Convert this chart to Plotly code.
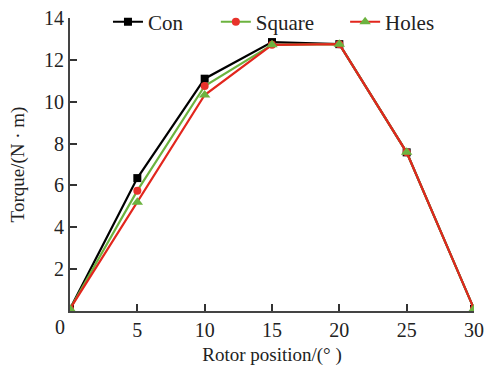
import plotly.graph_objects as go

positions = [0, 5, 10, 15, 20, 25, 30]
con = [0.1, 6.35, 11.1, 12.85, 12.75, 7.58, 0.1]
square = [0.1, 5.75, 10.75, 12.72, 12.75, 7.58, 0.1]
holes = [0.1, 5.2, 10.32, 12.72, 12.75, 7.58, 0.1]
x_ticks = [5, 10, 15, 20, 25, 30]
y_ticks = [2, 4, 6, 8, 10, 12, 14]

FONT = "Liberation Serif"

fig = go.Figure()
fig.add_trace(go.Scatter(x=positions, y=con, name="Con", mode="lines+markers",
                         line=dict(color="black", width=2.2), legend="legend",
                         marker=dict(symbol="square", size=8, color="black")))
fig.add_trace(go.Scatter(x=positions, y=square, name="Square", mode="lines+markers",
                         line=dict(color="#6cb33f", width=2.2), legend="legend2",
                         marker=dict(symbol="circle", size=8, color="#e8322b")))
fig.add_trace(go.Scatter(x=positions, y=holes, name="Holes", mode="lines+markers",
                         line=dict(color="#e2261d", width=2.2), legend="legend3",
                         marker=dict(symbol="triangle-up", size=10, color="#6cb33f")))

leg_common = dict(y=0.986, xanchor="left", yanchor="middle", bgcolor="rgba(0,0,0,0)",
                  font=dict(size=21, family=FONT, color="#222"))

fig.update_layout(
    width=491, height=367,
    margin=dict(l=70, r=17, t=18, b=56, autoexpand=False),
    plot_bgcolor="white", paper_bgcolor="white",
    font=dict(family=FONT, size=20, color="#222"),
    showlegend=True,
    legend=dict(x=0.094, **leg_common),
    legend2=dict(x=0.361, **leg_common),
    legend3=dict(x=0.681, **leg_common),
    xaxis=dict(range=[0, 30], tickvals=x_ticks, ticks="inside", ticklen=7,
               tickwidth=1.5, tickcolor="#333", showline=True, linecolor="#444",
               linewidth=2, showgrid=False, zeroline=False,
               tickfont=dict(size=20),
               title=dict(text="Rotor position/(° )", standoff=8,
                          font=dict(family=FONT, size=19))),
    yaxis=dict(range=[0, 14], tickvals=y_ticks, ticks="inside", ticklen=7,
               tickwidth=1.5, tickcolor="#333", showline=True, linecolor="#444",
               linewidth=2, showgrid=False, zeroline=False,
               tickfont=dict(size=20),
               title=dict(text="Torque/(N · m)", standoff=14,
                          font=dict(family=FONT, size=19))),
)
fig.add_annotation(x=0, y=0, xref="x", yref="y", text="0", showarrow=False,
                   xshift=-10, yshift=-16, font=dict(family=FONT, size=20, color="#222"))

fig.write_html("out.html")
